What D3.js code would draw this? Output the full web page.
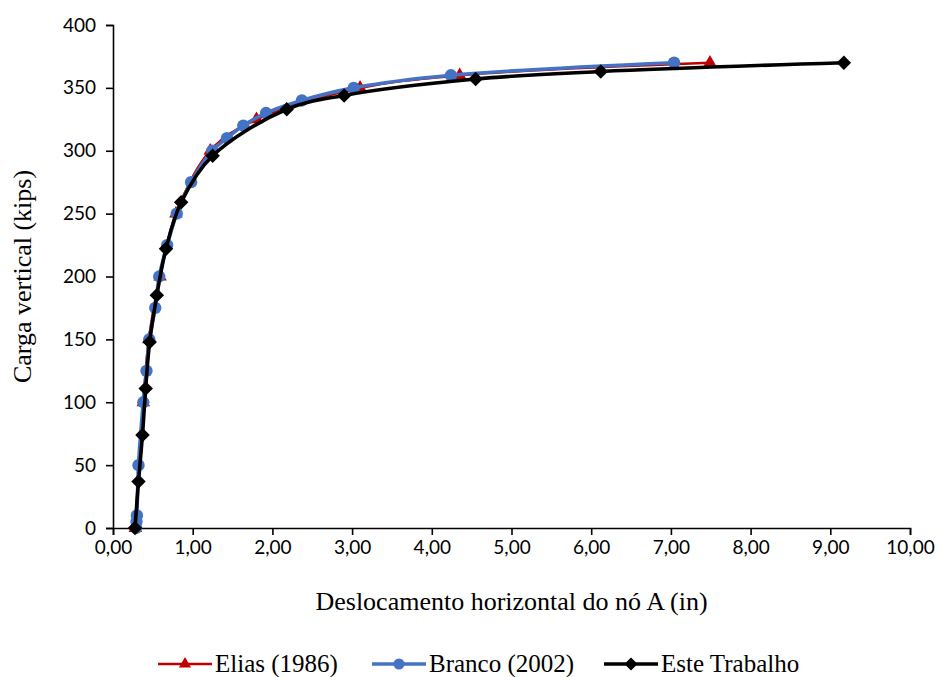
<!DOCTYPE html>
<html>
<head>
<meta charset="utf-8">
<script src="https://cdn.jsdelivr.net/npm/d3@7"></script>
<style>
  html, body { margin: 0; padding: 0; background: #fff; }
  svg { display: block; }
</style>
</head>
<body>
<svg id="chart" width="942" height="677"></svg>
<script>
// Load–displacement curves for node A
const eliasX = [0.28, 0.38, 0.45, 0.59, 0.79, 1.22, 1.80, 3.10, 4.35, 7.49];
const eliasY = [0, 100, 150, 200, 250, 300, 325, 350, 360, 370];

const brancoX = [0.29, 0.295, 0.30, 0.32, 0.38, 0.42, 0.455, 0.53, 0.58, 0.68, 0.80, 0.98, 1.245, 1.43, 1.635, 1.92, 2.37, 3.02, 4.24, 7.04];
const brancoY = [0, 5, 10, 50, 100, 125, 150, 175, 200, 225, 250, 275, 300, 310, 320, 330, 340, 350, 360, 370];

const esteX = [0.276, 0.32, 0.37, 0.41, 0.46, 0.55, 0.665, 0.855, 1.25, 2.18, 2.90, 4.55, 6.12, 9.17];
const esteY = [0, 37, 74, 111, 148, 185, 222, 259, 296, 333, 344, 357, 363, 370];

const xTicks = [0, 1, 2, 3, 4, 5, 6, 7, 8, 9, 10];
const yTicks = [0, 50, 100, 150, 200, 250, 300, 350, 400];

const seriesNames = ["Elias (1986)", "Branco (2002)", "Este Trabalho"];

const svg = d3.select("#chart");
const plotLeft = 113, plotRight = 910, plotTop = 25, plotBottom = 528;

const x = d3.scaleLinear().domain([0, 10]).range([plotLeft, plotRight]);
const y = d3.scaleLinear().domain([0, 400]).range([plotBottom, plotTop]);

const fmt = d => d.toFixed(2).replace(".", ",");

// Axes
const xAxis = svg.append("g")
  .attr("transform", `translate(0,${plotBottom})`)
  .call(d3.axisBottom(x).tickValues(xTicks).tickFormat(fmt).tickSize(7).tickPadding(6));
const yAxis = svg.append("g")
  .attr("transform", `translate(${plotLeft},0)`)
  .call(d3.axisLeft(y).tickValues(yTicks).tickSize(7).tickPadding(10));

[xAxis, yAxis].forEach(g => {
  g.select(".domain").attr("stroke", "#000").attr("stroke-width", 1.6);
  g.selectAll(".tick line").attr("stroke", "#000").attr("stroke-width", 1.6);
  g.selectAll(".tick text")
    .attr("fill", "#000")
    .style("font-family", "Lato, 'Open Sans', sans-serif")
    .style("font-size", "19px");
});

// Axis titles
svg.append("text")
  .attr("x", (plotLeft + plotRight) / 2)
  .attr("y", 610)
  .attr("text-anchor", "middle")
  .style("font-family", "'Liberation Serif', 'DejaVu Serif', serif")
  .style("font-size", "26px")
  .text("Deslocamento horizontal do nó A (in)");

svg.append("text")
  .attr("transform", `translate(31,${(plotTop + plotBottom) / 2}) rotate(-90)`)
  .attr("text-anchor", "middle")
  .style("font-family", "'Liberation Serif', 'DejaVu Serif', serif")
  .style("font-size", "26px")
  .text("Carga vertical (kips)");

// Series definitions
const series = [
  { name: seriesNames[0], xs: eliasX, ys: eliasY, color: "#C00000", width: 2.6,
    symbol: d3.symbolTriangle, size: 80, rotate: 0 },
  { name: seriesNames[1], xs: brancoX, ys: brancoY, color: "#4472C4", width: 3.6,
    symbol: d3.symbolCircle, size: 120, rotate: 0 },
  { name: seriesNames[2], xs: esteX, ys: esteY, color: "#000000", width: 3.6,
    symbol: d3.symbolSquare, size: 105, rotate: 45 }
];

const line = d3.line()
  .x(d => x(d[0]))
  .y(d => y(d[1]))
  .curve(d3.curveCatmullRom.alpha(0.5));

series.forEach(s => {
  const pts = s.xs.map((v, i) => [v, s.ys[i]]);
  const g = svg.append("g");
  g.append("path")
    .datum(pts)
    .attr("fill", "none")
    .attr("stroke", s.color)
    .attr("stroke-width", s.width)
    .attr("stroke-linejoin", "round")
    .attr("d", line);
  g.selectAll("path.mk")
    .data(pts)
    .join("path")
    .attr("class", "mk")
    .attr("fill", s.color)
    .attr("transform", d => `translate(${x(d[0])},${y(d[1])}) rotate(${s.rotate})`)
    .attr("d", d3.symbol().type(s.symbol).size(s.size));
});

// Legend
const legendY = 664;
const legendX = [158, 372, 604];
series.forEach((s, i) => {
  const g = svg.append("g").attr("transform", `translate(${legendX[i]},${legendY})`);
  g.append("line")
    .attr("x1", 0).attr("x2", 54)
    .attr("stroke", s.color).attr("stroke-width", s.width);
  g.append("path")
    .attr("fill", s.color)
    .attr("transform", `translate(27,0) rotate(${s.rotate})`)
    .attr("d", d3.symbol().type(s.symbol).size(s.size * 0.8));
  g.append("text")
    .attr("x", 57)
    .attr("y", 8)
    .style("font-family", "'Liberation Serif', 'DejaVu Serif', serif")
    .style("font-size", "25px")
    .text(s.name);
});
</script>
</body>
</html>
